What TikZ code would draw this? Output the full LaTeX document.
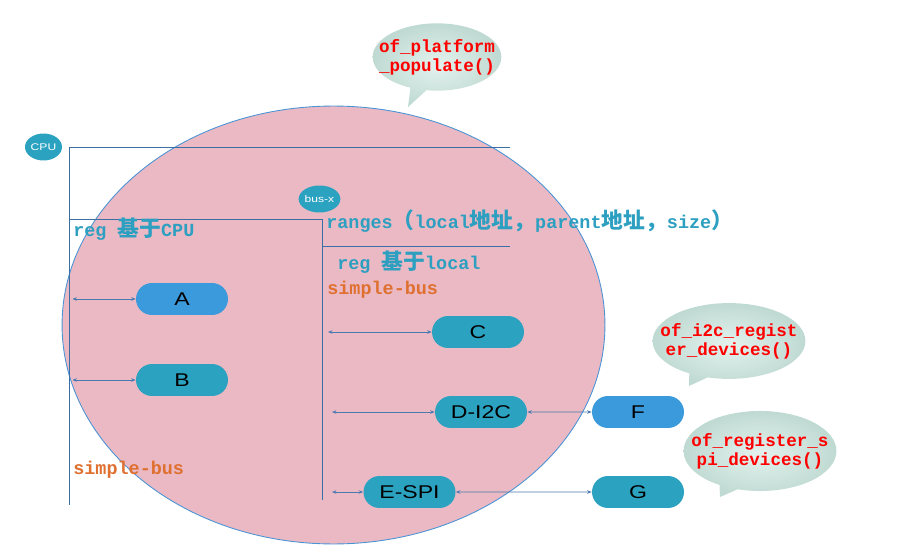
\documentclass[tikz,border=0pt]{standalone}
\usepackage{fontspec}
\setmainfont{Liberation Sans}
\setmonofont{Liberation Mono}
\newfontfamily\pillfont{Liberation Sans}[FakeStretch=1.25]
\newfontfamily\cjk{Noto Sans CJK SC}[Scale=1.18]
\newcommand{\zh}[1]{{\cjk #1}}
\usetikzlibrary{shapes.misc,shapes.geometric,shapes.callouts,arrows.meta}
\definecolor{pinkfill}{HTML}{EAB9C4}
\definecolor{ringblue}{HTML}{4A94D6}
\definecolor{busblue}{HTML}{3A6EA5}
\definecolor{linkblue}{HTML}{4A7AB0}
\definecolor{nodeteal}{HTML}{2CA2C1}
\definecolor{nodeblue}{HTML}{3A9ADC}
\definecolor{busteal}{HTML}{2D9FC0}
\definecolor{busorange}{HTML}{DF7030}
\definecolor{bubblein}{HTML}{E4F2EE}
\definecolor{bubbleout}{HTML}{BFDAD2}
\begin{document}
\begin{tikzpicture}
    [x=0.02cm, y=-0.02cm, inner sep=0pt,
     pill/.style={rounded rectangle, minimum width=1.84cm, minimum height=0.64cm,
       font=\pillfont\fontsize{10.5}{12}\selectfont},
     tealnode/.style={pill, fill=nodeteal},
     bluenode/.style={pill, fill=nodeblue},
     busdot/.style={ellipse, fill=nodeteal, minimum width=0.74cm, minimum height=0.54cm,
       text=white, font=\pillfont\fontsize{5.5}{6}\selectfont},
     bubble/.style={ellipse callout, inner color=bubblein, outer color=bubbleout,
       align=center, text=red, font=\ttfamily\bfseries\fontsize{10}{10.8}\selectfont},
     note/.style={anchor=west, font=\ttfamily\bfseries\fontsize{10.5}{12}\selectfont},
     link/.style={<->, draw=linkblue, line width=0.45pt},
     bus/.style={draw=busblue, line width=0.5pt},
     >={Stealth[length=2.5pt,width=2pt]}]
    \useasboundingbox (0,0) rectangle (910,554);
    \fill [pinkfill, draw=ringblue, line width=0.5pt] (333.5,325) ellipse [x radius=5.43cm, y radius=4.38cm];
    % bus lines
    \draw [bus] (510,147) -- (69,147) -- (69,505);
    \draw [bus] (69,219) -- (322,219) -- (322,500);
    \draw [bus] (322,246) -- (510,246);
    \node (cpu) at (43.5,147) [busdot] {CPU};
    \node (busx) at (319.5,199) [busdot] {bus-x};
    \node (regcpu) at (73,229) [note, text=busteal] {reg \zh{基于}CPU};
    \node (ranges) at (326,221) [note, text=busteal] {ranges\zh{（}local\zh{地址，}parent\zh{地址，}size\zh{）}};
    \node (reglocal) at (337,262) [note, text=busteal] {reg \zh{基于}local};
    \node (sbinner) at (327,290) [note, text=busorange] {simple-bus};
    \node (sbouter) at (73,470) [note, text=busorange] {simple-bus};
    % devices
    \node (A) at (182,299) [bluenode] {A};
    \node (B) at (182,380) [tealnode] {B};
    \node (C) at (478,332) [tealnode] {C};
    \node (D) at (481,412) [tealnode] {D-I2C};
    \node (F) at (638,412) [bluenode] {F};
    \node (E) at (409.5,492) [tealnode] {E-SPI};
    \node (G) at (638,492) [tealnode] {G};
    \coordinate (tA) at (72.5,299);
    \coordinate (tB) at (72.5,380);
    \coordinate (tC) at (328,332);
    \coordinate (tD) at (332,412);
    \coordinate (tE) at (332,492);
    \draw [link] (tA) to (A);
    \draw [link] (tB) to (B);
    \draw [link] (tC) to (C);
    \draw [link] (tD) to (D);
    \draw [link] (tE) to (E);
    \draw [link] (D) to (F);
    \draw [link] (E) to (G);
    % callouts
    \node (popbub) at (437,57) [bubble, inner xsep=-0.25cm, inner ysep=0.12cm,
      callout absolute pointer={(408,107)}] {of\_platform\\\_populate()};
    \node (i2cbub) at (729,341) [bubble, inner xsep=-0.29cm, inner ysep=0.18cm,
      callout absolute pointer={(689,386)}] {of\_i2c\_regist\\er\_devices()};
    \node (spibub) at (760,451) [bubble, inner xsep=-0.29cm, inner ysep=0.21cm,
      callout absolute pointer={(720,497)}] {of\_register\_s\\pi\_devices()};
\end{tikzpicture}
\end{document}
